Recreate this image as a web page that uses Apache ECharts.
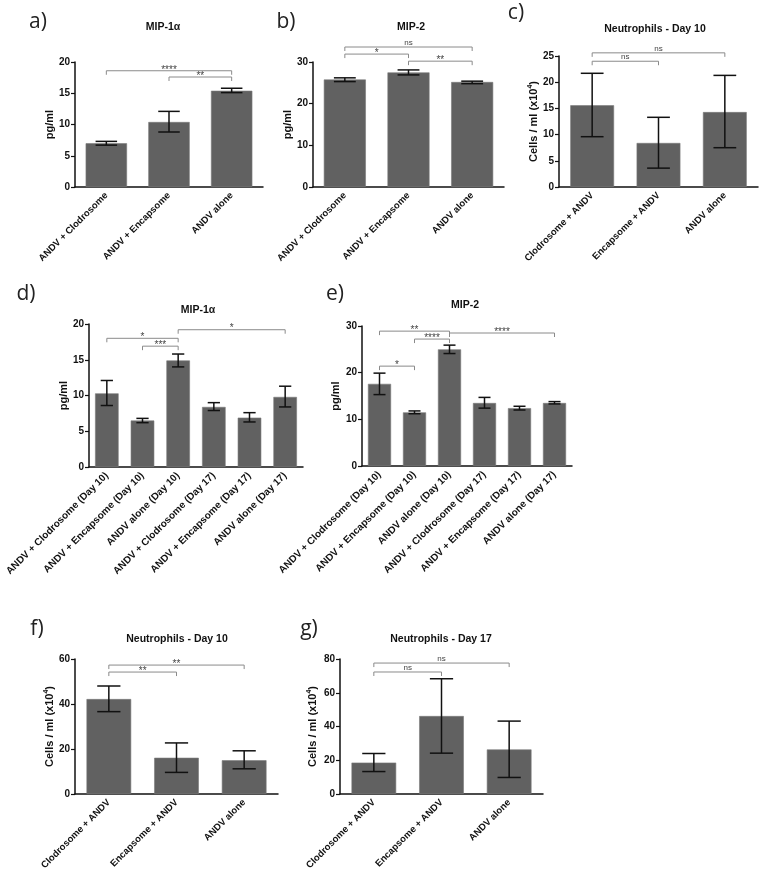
<!DOCTYPE html>
<html>
<head>
<meta charset="utf-8">
<script src="https://cdn.jsdelivr.net/npm/echarts@6/dist/echarts.min.js"></script>
<style>html,body{margin:0;padding:0;background:#fff}#c{width:760px;height:876px}</style>
</head>
<body>
<div id="c"></div>
<script>
// ---------- categories ----------
const catsA = ['ANDV + Clodrosome', 'ANDV + Encapsome', 'ANDV alone'];
const catsC = ['Clodrosome + ANDV', 'Encapsome + ANDV', 'ANDV alone'];
const catsD = ['ANDV + Clodrosome (Day 10)', 'ANDV + Encapsome (Day 10)', 'ANDV alone (Day 10)',
               'ANDV + Clodrosome (Day 17)', 'ANDV + Encapsome (Day 17)', 'ANDV alone (Day 17)'];

// ---------- values (mean, lower, upper) ----------
const meanA = [7.0, 10.4, 15.4];   const lowA = [6.7, 8.8, 15.1];   const highA = [7.3, 12.1, 15.8];
const meanB = [25.8, 27.5, 25.2];  const lowB = [25.3, 26.9, 24.8]; const highB = [26.2, 28.1, 25.4];
const meanC = [15.6, 8.4, 14.3];   const lowC = [9.6, 3.6, 7.5];    const highC = [21.7, 13.3, 21.3];
const meanD = [10.3, 6.5, 14.9, 8.4, 6.9, 9.8];
const lowD  = [8.6, 6.2, 14.0, 7.9, 6.3, 8.4];
const highD = [12.1, 6.8, 15.8, 9.0, 7.6, 11.3];
const meanE = [17.6, 11.5, 25.0, 13.5, 12.4, 13.5];
const lowE  = [15.3, 11.2, 24.1, 12.4, 12.0, 13.3];
const highE = [19.9, 11.8, 25.9, 14.7, 12.8, 13.8];
const meanF = [42.2, 16.1, 15.0];  const lowF = [36.6, 9.6, 11.2];  const highF = [48.0, 22.7, 19.2];
const meanG = [18.6, 46.2, 26.4];  const lowG = [13.3, 24.2, 9.8];  const highG = [24.0, 68.3, 43.2];

// ---------- significance brackets: [from, to, y-level, label] ----------
const sigA = [[0, 2, 18.6, '****'], [1, 2, 17.6, '**']];
const sigB = [[0, 2, 33.6, 'ns'], [0, 1, 31.9, '*'], [1, 2, 30.2, '**']];
const sigC = [[0, 2, 25.6, 'ns'], [0, 1, 24.0, 'ns']];
const sigD = [[2, 5, 19.2, '*'], [0, 2, 18.0, '*'], [1, 2, 16.9, '***']];
const sigE = [[0, 2, 28.9, '**'], [1, 2, 27.2, '****'], [2, 5, 28.5, '****'], [0, 1, 21.4, '*']];
const sigF = [[0, 2, 57.3, '**'], [0, 1, 54.2, '**']];
const sigG = [[0, 2, 77.6, 'ns'], [0, 1, 72.3, 'ns']];

// ---------- axis ticks ----------
const yMax = [20, 30, 25, 20, 30, 60, 80];
const yStep = [5, 10, 5, 5, 10, 20, 20];
const yNames = ['pg/ml', 'pg/ml', 'Cells / ml (x10{s|4})', 'pg/ml', 'pg/ml', 'Cells / ml (x10{s|4})', 'Cells / ml (x10{s|4})'];
const titles = ['MIP-1α', 'MIP-2', 'Neutrophils - Day 10', 'MIP-1α', 'MIP-2', 'Neutrophils - Day 10', 'Neutrophils - Day 17'];
const letters = ['a)', 'b)', 'c)', 'd)', 'e)', 'f)', 'g)'];

const panels = [
  {cats: catsA, mean: meanA, low: lowA, high: highA, sig: sigA},
  {cats: catsA, mean: meanB, low: lowB, high: highB, sig: sigB},
  {cats: catsC, mean: meanC, low: lowC, high: highC, sig: sigC},
  {cats: catsD, mean: meanD, low: lowD, high: highD, sig: sigD},
  {cats: catsD, mean: meanE, low: lowE, high: highE, sig: sigE},
  {cats: catsC, mean: meanF, low: lowF, high: highF, sig: sigF},
  {cats: catsC, mean: meanG, low: lowG, high: highG, sig: sigG}
];

// ---------- layout ----------
const grids = [
  {left: 75, top: 62, width: 188, height: 125},
  {left: 313, top: 62, width: 191, height: 125},
  {left: 559, top: 56, width: 199, height: 131},
  {left: 89, top: 324, width: 214, height: 143},
  {left: 362, top: 326, width: 210, height: 140},
  {left: 75, top: 659, width: 203, height: 135},
  {left: 340, top: 659, width: 203, height: 135}
];
const titlePos = [[163, 27], [411, 27], [655, 29], [198, 310], [465, 305], [177, 639], [441, 639]];
const letterPos = [[38, 22], [286, 22], [516, 13], [26, 294], [335, 294], [37, 629], [309, 629]];
const nameGaps = [19, 19, 17, 19, 21, 19, 21];
const labelSizes = [9.5, 9.5, 9.5, 10, 10, 9.5, 9.5];

const FONT = 'Liberation Sans';
const BAR = '#616161';

function errRender(params, api) {
  const x = api.value(0);
  const pLo = api.coord([x, api.value(1)]);
  const pHi = api.coord([x, api.value(2)]);
  const band = api.size([1, 0])[0];
  const cap = band * 0.66 * 0.26;
  const st = {stroke: '#111', lineWidth: 1.5};
  return {type: 'group', children: [
    {type: 'line', shape: {x1: pLo[0], y1: pLo[1], x2: pHi[0], y2: pHi[1]}, style: st},
    {type: 'line', shape: {x1: pHi[0] - cap, y1: pHi[1], x2: pHi[0] + cap, y2: pHi[1]}, style: st},
    {type: 'line', shape: {x1: pLo[0] - cap, y1: pLo[1], x2: pLo[0] + cap, y2: pLo[1]}, style: st}
  ]};
}

function sigRender(labels) {
  return function (params, api) {
    const lab = labels[params.dataIndex];
    const a = api.coord([api.value(0), api.value(2)]);
    const b = api.coord([api.value(1), api.value(2)]);
    const t = 4;
    const isStar = lab.indexOf('*') >= 0;
    return {type: 'group', children: [
      {type: 'polyline', shape: {points: [[a[0], a[1] + t], [a[0], a[1]], [b[0], b[1]], [b[0], b[1] + t]]},
       style: {stroke: '#8a8a8a', lineWidth: 1, fill: null}},
      {type: 'text', x: (a[0] + b[0]) / 2, y: isStar ? a[1] + 4 : a[1] - 0.5,
       style: {text: lab, fill: '#444', font: (isStar ? '10px ' : '8px ') + FONT, align: 'center', verticalAlign: 'bottom'}}
    ]};
  };
}

const option = {
  animation: false,
  backgroundColor: '#fff',
  grid: grids.map(g => Object.assign({containLabel: false}, g)),
  xAxis: panels.map((p, i) => ({
    type: 'category', gridIndex: i, data: p.cats,
    axisLine: {lineStyle: {color: '#111', width: 1.5}},
    axisTick: {alignWithLabel: true, length: 4, lineStyle: {color: '#111', width: 1.2}},
    axisLabel: {rotate: 45, interval: 0, margin: 7, color: '#111', fontFamily: FONT, fontWeight: 'bold', fontSize: labelSizes[i]}
  })),
  yAxis: panels.map((p, i) => ({
    type: 'value', gridIndex: i, min: 0, max: yMax[i], interval: yStep[i],
    name: yNames[i], nameLocation: 'middle', nameGap: nameGaps[i],
    nameTextStyle: {color: '#111', fontFamily: FONT, fontWeight: 'bold', fontSize: 11,
      rich: {s: {fontSize: 7, fontWeight: 'bold', fontFamily: FONT, color: '#111', verticalAlign: 'top', padding: [0, 0, 6, 0]}}},
    axisLine: {show: true, lineStyle: {color: '#111', width: 1.5}},
    axisTick: {show: true, length: 4, lineStyle: {color: '#111', width: 1.2}},
    axisLabel: {color: '#111', fontFamily: FONT, fontWeight: 'bold', fontSize: 10, margin: 5},
    splitLine: {show: false}
  })),
  series: [].concat(
    panels.map((p, i) => ({
      type: 'bar', xAxisIndex: i, yAxisIndex: i, data: p.mean, barWidth: '66%',
      itemStyle: {color: BAR, borderColor: '#7a7a7a', borderWidth: 0.6}
    })),
    panels.map((p, i) => ({
      type: 'custom', xAxisIndex: i, yAxisIndex: i, renderItem: errRender, clip: false, z: 5,
      encode: {x: 0, y: [1, 2]},
      data: p.mean.map((m, k) => [k, p.low[k], p.high[k]])
    })),
    panels.map((p, i) => ({
      type: 'custom', xAxisIndex: i, yAxisIndex: i, renderItem: sigRender(p.sig.map(s => s[3])), clip: false, z: 6,
      encode: {x: [0, 1], y: 2},
      data: p.sig.map(s => [s[0], s[1], s[2]])
    }))
  ),
  graphic: [].concat(
    titles.map((t, i) => ({type: 'text', x: titlePos[i][0], y: titlePos[i][1],
      style: {text: t, fill: '#111', font: 'bold 10.5px ' + FONT, align: 'center', verticalAlign: 'middle'}})),
    letters.map((t, i) => ({type: 'text', x: letterPos[i][0], y: letterPos[i][1],
      style: {text: t, fill: '#222', font: '21px "Open Sans"', align: 'center', verticalAlign: 'middle'}}))
  )
};

const chart = echarts.init(document.getElementById('c'), null, {renderer: 'canvas'});
chart.setOption(option);
</script>
</body>
</html>
